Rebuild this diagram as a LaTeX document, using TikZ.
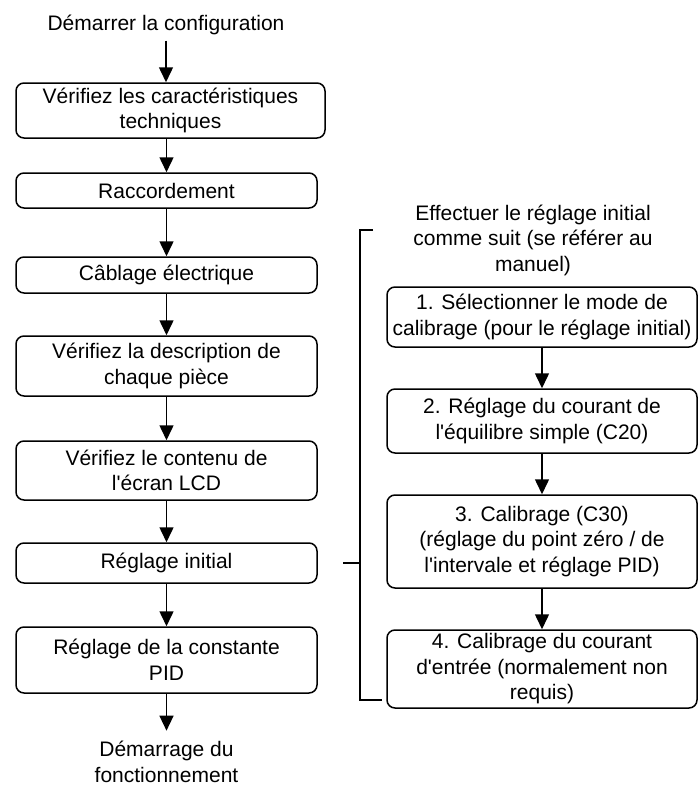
\documentclass[tikz,border=0pt]{standalone}
\usepackage{fontspec}
\setmainfont{Liberation Sans}[Ligatures=TeXOff]
\usepackage{tikz}
\usetikzlibrary{positioning,arrows.meta}

\begin{document}
\begin{tikzpicture}[x=1pt,y=-1pt,->,>={Triangle[width=14pt,length=15pt]},line width=1.5pt,stepnode/.style={rectangle,draw,rounded corners=8pt,align=center,inner sep=0pt,font=\fontsize{21}{25.5}\selectfont},textnode/.style={align=center,inner sep=0pt,font=\fontsize{21}{25.5}\selectfont}]
	
	\useasboundingbox (0,0) rectangle (699,787);
	
	% main column
	\node [textnode] (0) at (166, 25) {Démarrer la configuration};
	\node [stepnode, minimum width=309pt, minimum height=55pt] (1) at (170.5, 110.5) {Vérifiez les caractéristiques\\techniques};
	\node [stepnode, minimum width=301pt, minimum height=35pt] (2) at (166.5, 190.5) {Raccordement};
	\node [stepnode, minimum width=301pt, minimum height=36pt] (3) at (166.5, 275) {Câblage électrique};
	\node [stepnode, minimum width=301pt, minimum height=60pt] (4) at (166.5, 366) {Vérifiez la description de\\chaque pièce};
	\node [stepnode, minimum width=301pt, minimum height=59pt] (5) at (166.5, 470.5) {Vérifiez le contenu de\\l'écran LCD};
	\node [stepnode, minimum width=301pt, minimum height=40pt] (6) at (166.5, 563) {Réglage initial};
	\node [stepnode, minimum width=301pt, minimum height=66pt] (7) at (166.5, 660) {Réglage de la constante\\PID};
	\node [textnode] (8) at (166.5, 762) {Démarrage du\\fonctionnement};
	
	% initial setting steps
	\node [textnode] (9) at (533, 240) {Effectuer le réglage initial\\comme suit (se référer au\\manuel)};
	\node [stepnode, minimum width=310pt, minimum height=60pt] (10) at (542, 317) {1. Sélectionner le mode de\\calibrage (pour le réglage initial)};
	\node [stepnode, minimum width=310pt, minimum height=64pt] (11) at (542, 421) {2. Réglage du courant de\\l'équilibre simple (C20)};
	\node [stepnode, minimum width=310pt, minimum height=93pt] (12) at (542, 541.5) {3. Calibrage (C30)\\(réglage du point zéro / de\\l'intervale et réglage PID)};
	\node [stepnode, minimum width=310pt, minimum height=78pt] (13) at (542, 669) {4. Calibrage du courant\\d'entrée (normalement non\\requis)};
	
	\coordinate (b0) at (373, 230);
	\coordinate (b1) at (360, 230);
	\coordinate (b2) at (360, 700);
	\coordinate (b3) at (382, 700);
	\coordinate (bm) at (360, 563);
	\coordinate (bt) at (343, 563);
	
	\draw [shorten <=5pt] (0) to (0 |- 1.north);
	\draw (1.south -| 2) to (2);
	\draw (2) to (3);
	\draw (3) to (4);
	\draw (4) to (5);
	\draw (5) to (6);
	\draw (6) to (7);
	\draw [shorten >=10pt] (7) to (8);
	
	\draw (10) to (11);
	\draw (11) to (12);
	\draw (12) to (13);
	
	\draw [-] (b0) -- (b1) -- (b2) -- (b3);
	\draw [-] (bt) -- (bm);
\end{tikzpicture}
\end{document}
